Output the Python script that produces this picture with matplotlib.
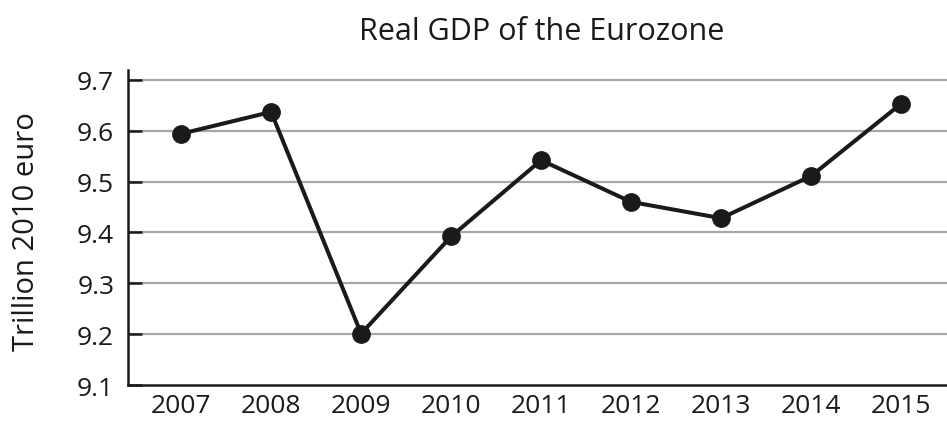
import matplotlib
matplotlib.use("Agg")
import matplotlib.pyplot as plt

plt.rcParams['font.family'] = ['Open Sans', 'DejaVu Sans']

# Real GDP, trillion 2010 euro
years = [2007, 2008, 2009, 2010, 2011, 2012, 2013, 2014, 2015]
gdp = [9.594, 9.637, 9.201, 9.392, 9.542, 9.460, 9.428, 9.511, 9.653]
y_ticks = [9.1, 9.2, 9.3, 9.4, 9.5, 9.6, 9.7]

fig = plt.figure(figsize=(9.47, 4.31), dpi=100)
ax = fig.add_axes([0.1352, 0.1044, 0.8648, 0.7316])

ax.plot(years, gdp, color='#1a1a1a', linewidth=2.9, marker='o',
        markersize=12.5, markerfacecolor='#1a1a1a', markeredgecolor='#1a1a1a',
        zorder=3, clip_on=False)

ax.set_xlim(2006.41, 2015.51)
ax.set_ylim(9.1, 9.72)
ax.set_xticks(years)
ax.set_yticks(y_ticks)
ax.set_yticklabels([f'{v:.1f}' for v in y_ticks])

# horizontal grid only
for v in y_ticks[1:]:
    ax.axhline(v, color='#a8a8a8', linewidth=1.6, zorder=1)

for side in ['top', 'right']:
    ax.spines[side].set_visible(False)
for side in ['left', 'bottom']:
    ax.spines[side].set_linewidth(1.8)
    ax.spines[side].set_color('#1a1a1a')

ax.tick_params(axis='y', direction='in', length=10, width=1.8,
               color='#1a1a1a', pad=10, labelsize=19, labelcolor='#1a1a1a')
ax.tick_params(axis='x', length=0, pad=6, labelsize=19, labelcolor='#1a1a1a')

fig.text(0.572, 1 - 32 / 431, 'Real GDP of the Eurozone', ha='center',
         va='center', fontsize=22, color='#1a1a1a')
fig.text(0.028, 0.462, 'Trillion 2010 euro', rotation=90, ha='center',
         va='center', fontsize=21, color='#1a1a1a')

fig.savefig('out.png', dpi=100)
